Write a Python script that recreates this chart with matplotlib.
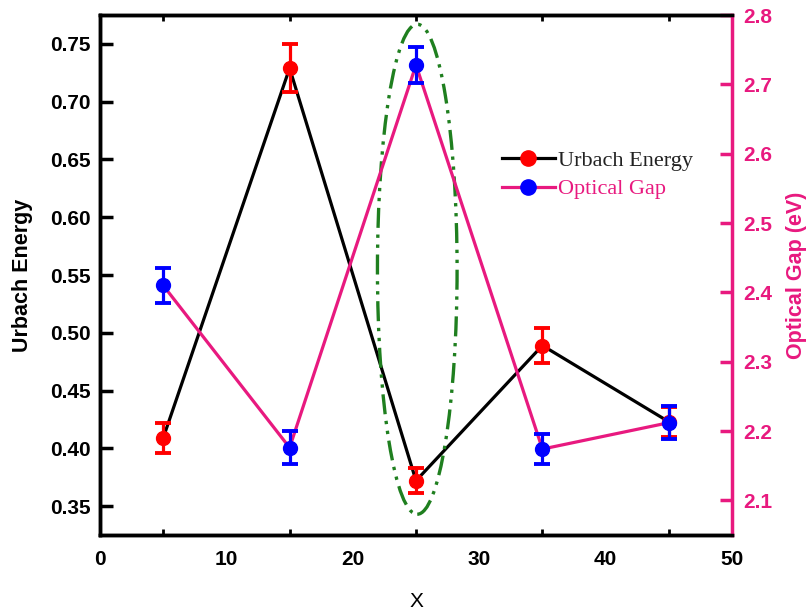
import matplotlib
matplotlib.use("Agg")
import matplotlib.pyplot as plt
from matplotlib.patches import Ellipse
from matplotlib.lines import Line2D
from matplotlib.ticker import MultipleLocator

x = [5, 15, 25, 35, 45]
urbach = [0.409, 0.729, 0.372, 0.489, 0.423]
urbach_err = [0.013, 0.021, 0.011, 0.015, 0.013]
gap = [2.410, 2.176, 2.728, 2.174, 2.212]
gap_err = [0.025, 0.024, 0.026, 0.021, 0.024]

xticks = [0, 10, 20, 30, 40, 50]
left_ticks = [0.35, 0.40, 0.45, 0.50, 0.55, 0.60, 0.65, 0.70, 0.75]
right_ticks = [2.1, 2.2, 2.3, 2.4, 2.5, 2.6, 2.7, 2.8]

MAG = '#E8197F'
GREEN = '#1F7F1F'
sans = ['Liberation Sans', 'DejaVu Sans']
serif = ['Liberation Serif', 'DejaVu Serif']

fig = plt.figure(figsize=(8.11, 6.13), dpi=100)
ax = fig.add_axes([0.1233, 0.1272, 0.7793, 0.8483])
ax2 = ax.twinx()

# Urbach energy (left)
ax.plot(x, urbach, color='black', lw=2.3, zorder=2)
ax.errorbar(x, urbach, yerr=urbach_err, fmt='o', color='red', ms=10,
            elinewidth=2.3, capsize=5.5, capthick=2.8, zorder=3)

# Optical gap (right)
ax2.plot(x, gap, color=MAG, lw=2.3, zorder=2)
ax2.errorbar(x, gap, yerr=gap_err, fmt='o', color='blue', ms=10,
             elinewidth=2.3, capsize=5.5, capthick=2.8, zorder=3)

# highlight ellipse
ell = Ellipse((25.1, 0.555), width=6.3, height=0.424, fill=False,
              edgecolor=GREEN, lw=2.4, linestyle=(0, (6, 2, 1, 2, 1, 2)), zorder=4)
ax.add_patch(ell)

ax.set_xlim(0, 50)
ax.set_ylim(0.325, 0.775)
ax2.set_ylim(2.05, 2.8)

ax.set_xticks(xticks)
ax.set_xticklabels([str(v) for v in xticks], fontfamily=sans, fontweight='bold', fontsize=15)
ax.set_yticks(left_ticks)
ax.set_yticklabels([f"{v:.2f}" for v in left_ticks], fontfamily=sans, fontweight='bold', fontsize=15)
ax2.set_yticks(right_ticks)
ax2.set_yticklabels([f"{v:.1f}" for v in right_ticks], fontfamily=sans, fontweight='bold',
                    fontsize=15, color=MAG)

ax.xaxis.set_minor_locator(MultipleLocator(5))
ax.tick_params(axis='x', which='major', length=0, pad=11, top=False)
ax.tick_params(axis='x', which='minor', length=4, width=2, direction='in', top=True, bottom=True)
ax.tick_params(axis='y', which='major', direction='in', length=9, width=2.5, pad=7, right=False)
ax2.tick_params(axis='y', which='major', direction='in', length=9, width=2.5, pad=8, color=MAG)

for s in ['left', 'bottom', 'top']:
    ax.spines[s].set_linewidth(2.5)
    ax2.spines[s].set_linewidth(2.5)
ax2.spines['right'].set_linewidth(2.5)
ax2.spines['right'].set_color(MAG)
ax.spines['right'].set_visible(False)

ax.set_ylabel('Urbach Energy', fontfamily=sans, fontweight='bold', fontsize=15.5, labelpad=12)
ax2.set_ylabel('Optical Gap (eV)', fontfamily=sans, fontweight='bold', fontsize=15.5,
               color=MAG, labelpad=10)
ax.set_xlabel('X', fontfamily=sans, fontsize=15, labelpad=16)

handles = [Line2D([], [], color='black', lw=2.3, marker='o', mfc='red', mec='red', ms=11),
           Line2D([], [], color=MAG, lw=2.3, marker='o', mfc='blue', mec='blue', ms=11)]
leg = ax2.legend(handles, ['Urbach Energy', 'Optical Gap'], loc='upper left',
                 bbox_to_anchor=(0.604, 0.778), frameon=False, handlelength=2.4,
                 handletextpad=0.15, labelspacing=0.35,
                 prop={'family': serif, 'size': 16})
leg.get_texts()[0].set_color('#222222')
leg.get_texts()[1].set_color(MAG)

fig.savefig('out.png', dpi=100)
